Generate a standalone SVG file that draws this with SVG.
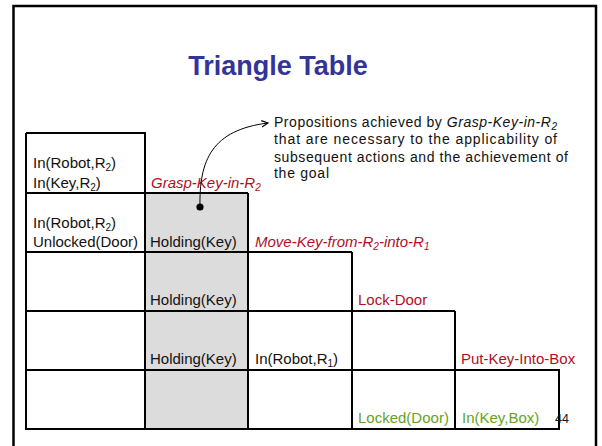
<svg xmlns="http://www.w3.org/2000/svg" width="602" height="446" viewBox="0 0 602 446">
  <style>
    text { font-family: "Liberation Sans", "DejaVu Sans", sans-serif; font-size: 15px; fill: #111; }
    .title { font-size: 27px; font-weight: bold; fill: #333399; }
    .act { fill: #b0101e; }
    .goal { fill: #66a322; }
    .note { font-size: 14px; }
    .it { font-style: italic; }
    .cell { fill: none; stroke: #000; stroke-width: 2; }
    .sub { font-size: 10px; }
  </style>
  <defs>
    <marker id="arrow" viewBox="0 0 10 10" refX="9" refY="5" markerWidth="8" markerHeight="8" orient="auto" markerUnits="userSpaceOnUse">
      <path d="M1,1 L9,5 L1,9" fill="none" stroke="#000" stroke-width="1.4"/>
    </marker>
  </defs>

  <rect width="602" height="446" fill="#fff"/>
  <!-- slide frame, open at the bottom -->
  <path d="M13.5,450 V6 H596 V450" fill="none" stroke="#000" stroke-width="2.5"/>

  <text class="title" x="278" y="75" text-anchor="middle">Triangle Table</text>

  <!-- shaded column -->
  <rect x="145" y="193" width="103.5" height="236" fill="#dcdcdc"/>

  <!-- table grid -->
  <g id="grid">
    <path class="cell" d="M26,133 H145 V429 M26,133 V429 H559 V370 H26 M26,193 H248 M26,252 H352 M26,311 H455 M248,193 V429 M352,252 V429 M455,311 V429 M455,370 H559"/>
  </g>

  <g id="row1">
    <text x="33" y="168">In(Robot,R<tspan class="sub" dy="3">2</tspan><tspan dy="-3">)</tspan></text>
    <text x="33" y="188">In(Key,R<tspan class="sub" dy="3">2</tspan><tspan dy="-3">)</tspan></text>
    <text class="act it" x="151" y="188">Grasp-Key-in-R<tspan class="sub" dy="3">2</tspan></text>
  </g>

  <g id="row2">
    <text x="33" y="228">In(Robot,R<tspan class="sub" dy="3">2</tspan><tspan dy="-3">)</tspan></text>
    <text x="33" y="247">Unlocked(Door)</text>
    <text x="150" y="247">Holding(Key)</text>
    <text class="act it" x="255" y="247">Move-Key-from-R<tspan class="sub" dy="3">2</tspan><tspan dy="-3">-into-R</tspan><tspan class="sub" dy="3">1</tspan></text>
  </g>

  <g id="row3">
    <text x="150" y="305">Holding(Key)</text>
    <text class="act" x="358" y="305">Lock-Door</text>
  </g>

  <g id="row4">
    <text x="150" y="364">Holding(Key)</text>
    <text x="255" y="364">In(Robot,R<tspan class="sub" dy="3">1</tspan><tspan dy="-3">)</tspan></text>
    <text class="act" x="461" y="364">Put-Key-Into-Box</text>
  </g>

  <g id="row5">
    <text class="goal" x="358" y="423">Locked(Door)</text>
    <text class="goal" x="462" y="423">In(Key,Box)</text>
    <text x="555" y="423" style="font-size:12.5px">44</text>
  </g>

  <g id="note">
    <text class="note" x="274" y="127" textLength="283" lengthAdjust="spacing">Propositions achieved by <tspan class="it">Grasp-Key-in-R</tspan><tspan class="sub it" dy="3">2</tspan></text>
    <text class="note" x="274" y="144" textLength="283" lengthAdjust="spacing">that are necessary to the applicability of</text>
    <text class="note" x="274" y="161.5" textLength="294" lengthAdjust="spacing">subsequent actions and the achievement of</text>
    <text class="note" x="274" y="178" textLength="55" lengthAdjust="spacing">the goal</text>
  </g>

  <g id="connectors">
    <path d="M200,207 C199,160 212,130 268,123" fill="none" stroke="#000" stroke-width="1" marker-end="url(#arrow)"/>
    <circle cx="200" cy="207" r="3.6" fill="#000"/>
  </g>
</svg>
